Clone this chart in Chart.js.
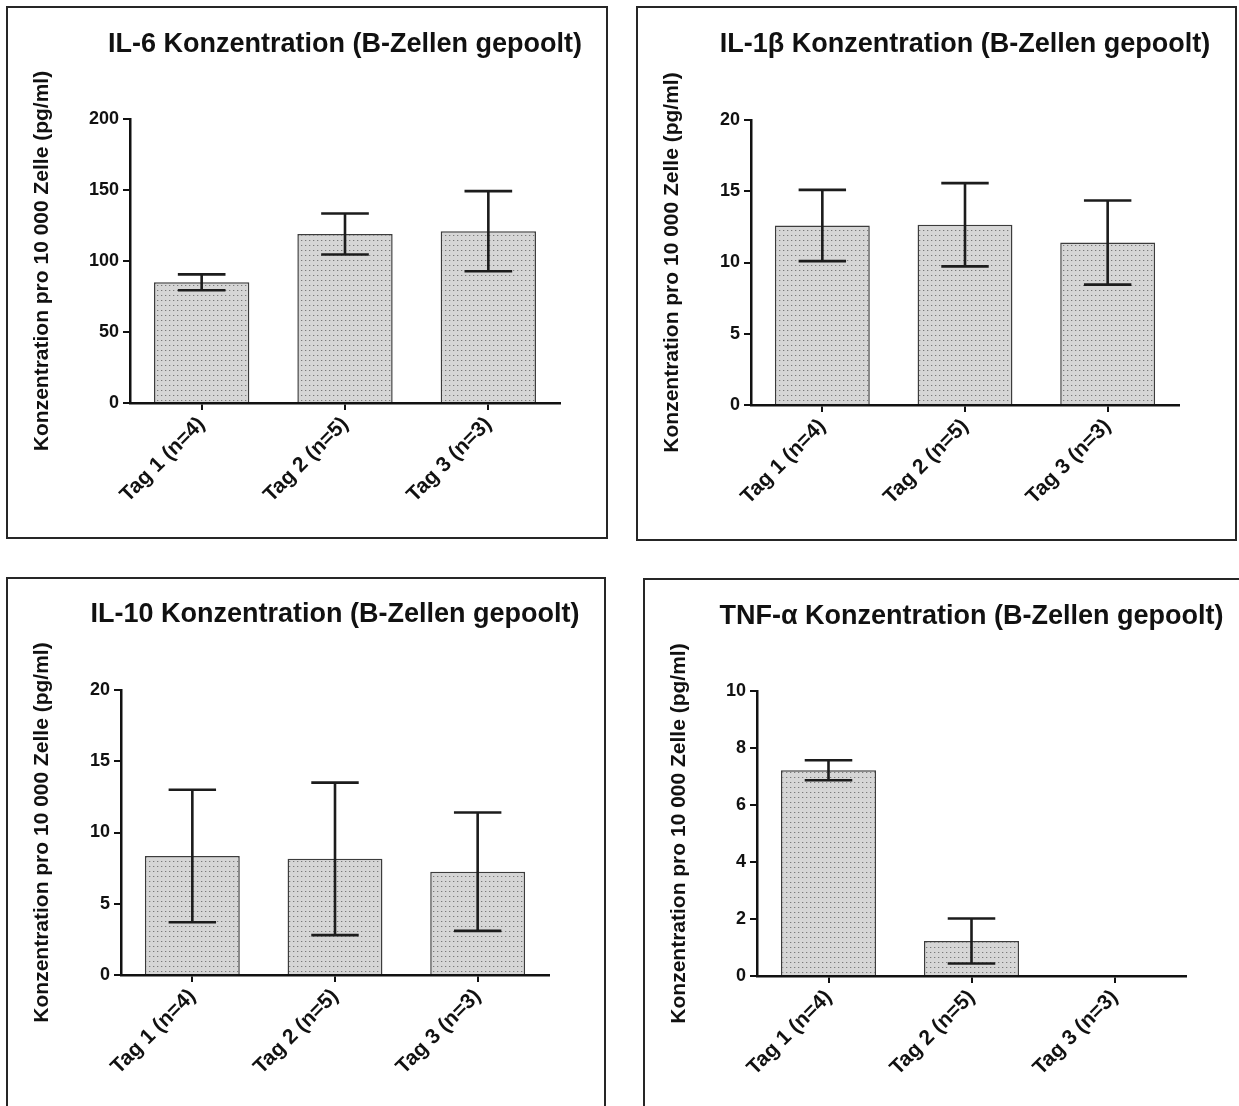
<!DOCTYPE html>
<html><head><meta charset="utf-8">
<script src="https://cdn.jsdelivr.net/npm/chart.js@4.4.1/dist/chart.umd.min.js"></script>
<style>
html,body{margin:0;padding:0;background:#fff;width:1239px;height:1106px;overflow:hidden;position:relative;}
.panel{position:absolute;box-sizing:border-box;border:2px solid #262626;background:#fff;}
.panel canvas{position:absolute;left:0;top:0;}
</style></head><body>
<div class="panel" style="left:6px;top:6px;width:602px;height:533px"><canvas id="c1"></canvas></div>
<div class="panel" style="left:636px;top:6px;width:601px;height:535px"><canvas id="c2"></canvas></div>
<div class="panel" style="left:6px;top:577px;width:600px;height:540px"><canvas id="c3"></canvas></div>
<div class="panel" style="left:643px;top:578px;width:610px;height:540px"><canvas id="c4"></canvas></div>
<script>
// ---------- data ----------
const categories = ['Tag 1 (n=4)', 'Tag 2 (n=5)', 'Tag 3 (n=3)'];

const il6Title = 'IL-6 Konzentration (B-Zellen gepoolt)';
const il6Mean = [85, 119, 121];
const il6Err = [5.6, 14.4, 28.2];
const il6Max = 200, il6Step = 50;

const il1bTitle = 'IL-1\u03B2 Konzentration (B-Zellen gepoolt)';
const il1bMean = [12.6, 12.65, 11.4];
const il1bErr = [2.5, 2.92, 2.95];
const il1bMax = 20, il1bStep = 5;

const il10Title = 'IL-10 Konzentration (B-Zellen gepoolt)';
const il10Mean = [8.35, 8.15, 7.25];
const il10Err = [4.65, 5.35, 4.15];
const il10Max = 20, il10Step = 5;

const tnfTitle = 'TNF-\u03B1 Konzentration (B-Zellen gepoolt)';
const tnfMean = [7.22, 1.23, 0];
const tnfErr = [0.35, 0.79, 0];
const tnfMax = 10, tnfStep = 2;

const yAxisTitle = 'Konzentration pro 10 000 Zelle (pg/ml)';

// ---------- helpers ----------
const FONT = '"Liberation Sans", Arial, Helvetica, sans-serif';
const Y_TITLE_SIZE = 21;

function dotPattern(ctx){
  const c = document.createElement('canvas');
  c.width = 4; c.height = 5;
  const g = c.getContext('2d');
  g.fillStyle = '#d6d6d6'; g.fillRect(0,0,4,5);
  g.fillStyle = '#7a7a7a'; g.fillRect(1,2,1,1);
  g.fillStyle = '#bcbcbc'; g.fillRect(2,2,1,1);
  return ctx.createPattern(c, 'repeat');
}

const errorBars = {
  id: 'errorBars',
  afterDatasetsDraw(chart){
    const ctx = chart.ctx, ys = chart.scales.y;
    chart.data.datasets.forEach((ds, di) => {
      const meta = chart.getDatasetMeta(di);
      meta.data.forEach((bar, i) => {
        const m = ds.data[i], e = ds.errors[i];
        if (!e) return;
        const yt = ys.getPixelForValue(m + e), yb = ys.getPixelForValue(m - e);
        const hw = bar.width / 4;
        ctx.save();
        ctx.strokeStyle = '#1c1c1c'; ctx.lineWidth = 2.6; ctx.lineCap = 'butt';
        ctx.beginPath();
        ctx.moveTo(bar.x, yt); ctx.lineTo(bar.x, yb);
        ctx.moveTo(bar.x - hw, yt); ctx.lineTo(bar.x + hw, yt);
        ctx.moveTo(bar.x - hw, yb); ctx.lineTo(bar.x + hw, yb);
        ctx.stroke();
        ctx.restore();
      });
    });
  }
};

const panelTitle = {
  id: 'panelTitle',
  afterDraw(chart, args, opts){
    const ctx = chart.ctx, a = chart.chartArea;
    ctx.save();
    ctx.fillStyle = '#111';
    ctx.font = 'bold ' + opts.size + 'px ' + FONT;
    ctx.textAlign = 'center'; ctx.textBaseline = 'middle';
    ctx.fillText(opts.text, (a.left + a.right) / 2 + (opts.dx || 0), opts.y);
    ctx.restore();
  }
};

function makeChart(id, g, title, means, errs, yMax, yStep){
  const cv = document.getElementById(id);
  cv.width = g.w; cv.height = g.h;
  const ctx = cv.getContext('2d');
  const L = g.L - g.ox, R = g.R - g.ox, T = g.T - g.oy, B = g.B - g.oy;
  return new Chart(ctx, {
    type: 'bar',
    data: {
      labels: categories,
      datasets: [{
        data: means,
        errors: errs,
        backgroundColor: dotPattern(ctx),
        borderColor: '#3c3c3c',
        borderWidth: 1.5,
        barPercentage: 0.665,
        categoryPercentage: 1
      }]
    },
    options: {
      responsive: false,
      animation: false,
      devicePixelRatio: 1,
      layout: { padding: { left: 0, top: T, right: g.w - R, bottom: 0 } },
      plugins: {
        legend: { display: false },
        tooltip: { enabled: false },
        panelTitle: { text: title, y: g.titleY - g.oy, size: 27 }
      },
      scales: {
        x: {
          offset: true,
          afterFit(s){ s.height = g.h - B; },
          grid: { display: true, drawOnChartArea: false, drawTicks: true, tickLength: 7, color: '#111', lineWidth: 2, offset: false },
          border: { display: true, color: '#111', width: 2.5 },
          ticks: { color: '#111', font: { family: FONT, size: 21, weight: 'bold' }, maxRotation: 45, minRotation: 45, autoSkip: false, padding: 2 }
        },
        y: {
          min: 0, max: yMax,
          afterFit(s){ s.width = L; },
          grid: { display: true, drawOnChartArea: false, drawTicks: true, tickLength: 7, color: '#111', lineWidth: 2 },
          border: { display: true, color: '#111', width: 2.5 },
          ticks: { stepSize: yStep, color: '#111', font: { family: FONT, size: 18, weight: 'bold' }, padding: 4 },
          title: { display: true, text: yAxisTitle, color: '#111', font: { family: FONT, size: Y_TITLE_SIZE, weight: 'bold' }, padding: { top: g.yTitleX - g.ox - Y_TITLE_SIZE * 0.6, bottom: 0 } }
        }
      }
    },
    plugins: [errorBars, panelTitle]
  });
}

makeChart('c1', {ox:8, oy:8, w:598, h:529, L:130, R:560, T:119, B:403, titleY:45, yTitleX:42}, il6Title, il6Mean, il6Err, il6Max, il6Step);
makeChart('c2', {ox:638, oy:8, w:597, h:531, L:751, R:1179, T:120, B:405, titleY:45, yTitleX:672}, il1bTitle, il1bMean, il1bErr, il1bMax, il1bStep);
makeChart('c3', {ox:8, oy:579, w:596, h:536, L:121, R:549, T:690, B:975, titleY:615, yTitleX:42}, il10Title, il10Mean, il10Err, il10Max, il10Step);
makeChart('c4', {ox:645, oy:580, w:606, h:536, L:757, R:1186, T:691, B:976, titleY:617, yTitleX:679}, tnfTitle, tnfMean, tnfErr, tnfMax, tnfStep);
</script>
</body></html>
